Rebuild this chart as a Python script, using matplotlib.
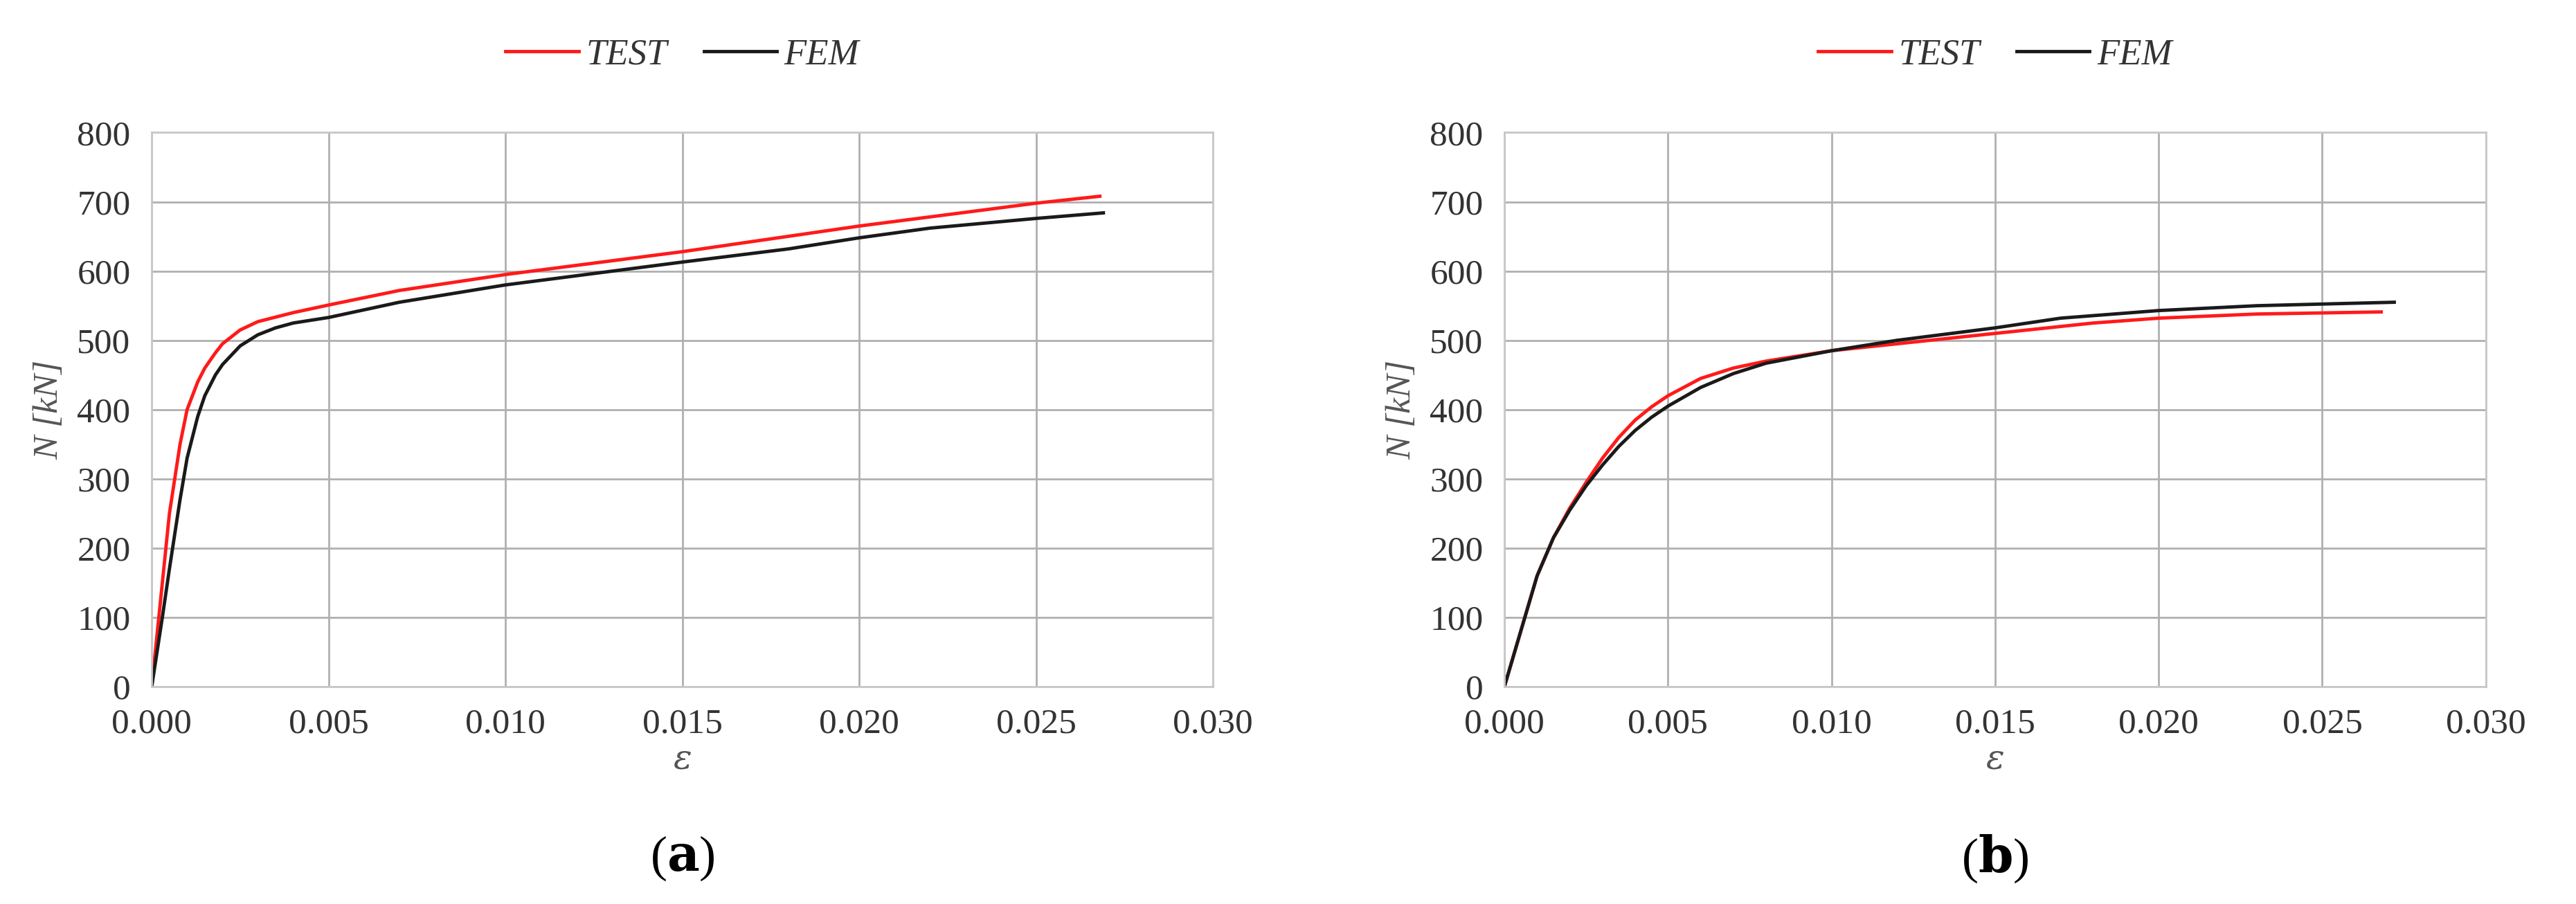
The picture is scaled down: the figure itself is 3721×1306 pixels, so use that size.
import matplotlib.pyplot as plt

# strain / axial force readings, panel (a)
a_test_eps = [0, 0.0003, 0.0005, 0.0008, 0.001, 0.0013, 0.0015, 0.0018, 0.002, 0.0025, 0.003, 0.004, 0.005, 0.007, 0.010, 0.015, 0.020, 0.025, 0.0268]
a_test_n = [0, 150, 250, 350, 400, 440, 460, 482, 495, 515, 527, 540, 551, 572, 595, 628, 665, 698, 708]
a_fem_eps = [0, 0.0003, 0.0005, 0.0008, 0.001, 0.0013, 0.0015, 0.0018, 0.002, 0.0025, 0.003, 0.0035, 0.004, 0.005, 0.007, 0.010, 0.015, 0.018, 0.020, 0.022, 0.025, 0.0269]
a_fem_n = [0, 100, 170, 270, 330, 390, 420, 450, 465, 492, 508, 518, 525, 533, 555, 580, 613, 632, 648, 662, 676, 684]

# panel (b)
b_test_eps = [0, 0.0005, 0.001, 0.0015, 0.002, 0.0025, 0.003, 0.0035, 0.004, 0.0045, 0.005, 0.006, 0.007, 0.008, 0.010, 0.012, 0.015, 0.018, 0.020, 0.023, 0.0268]
b_test_n = [0, 80, 160, 215, 258, 295, 330, 360, 385, 404, 420, 445, 460, 470, 485, 495, 510, 525, 532, 538, 541]
b_fem_eps = [0, 0.0005, 0.001, 0.0015, 0.002, 0.0025, 0.003, 0.0035, 0.004, 0.0045, 0.005, 0.006, 0.007, 0.008, 0.010, 0.012, 0.015, 0.017, 0.020, 0.023, 0.0272]
b_fem_n = [0, 80, 160, 215, 255, 290, 320, 347, 370, 389, 405, 432, 452, 467, 485, 500, 518, 532, 543, 550, 555]

x_ticks = [0.0, 0.005, 0.010, 0.015, 0.020, 0.025, 0.030]
y_ticks = list(range(0, 801, 100))

plt.rcParams['font.family'] = ['Liberation Serif', 'DejaVu Serif']
plt.rcParams['mathtext.fontset'] = 'dejavuserif'

fig = plt.figure(figsize=(37.21, 13.06), dpi=100)
panels = [
    ([0.0589, 0.2404, 0.412, 0.613], a_test_eps, a_test_n, a_fem_eps, a_fem_n, "a"),
    ([0.584, 0.2404, 0.381, 0.613], b_test_eps, b_test_n, b_fem_eps, b_fem_n, "b"),
]
for rect, te, tn, fe, fn, tag in panels:
    ax = fig.add_axes(rect)
    ax.plot(te, tn, color="#ff1a1a", lw=3.5, label="TEST")
    ax.plot(fe, fn, color="#1a1a1a", lw=3.5, label="FEM")
    ax.set_xlim(0, 0.030)
    ax.set_ylim(0, 800)
    ax.set_xticks(x_ticks)
    ax.set_xticklabels([f"{v:.3f}" for v in x_ticks])
    ax.set_yticks(y_ticks)
    ax.tick_params(length=0, labelsize=37, colors="#333333", pad=22)
    ax.grid(True, color="#b0b0b0", lw=2)
    for s in ax.spines.values():
        s.set_color("#c8c8c8")
        s.set_linewidth(2)
    ax.set_xlabel(r"$\varepsilon$", fontsize=36, color="#555555", labelpad=4)
    ax.set_ylabel("N [kN]", fontsize=37, style="italic", color="#555555", labelpad=12)
    ax.legend(loc="lower center", bbox_to_anchor=(0.5, 1.05), ncol=2, frameon=False,
              prop={"style": "italic", "size": 38}, handlelength=2.0,
              handletextpad=0.2, columnspacing=1.0, labelcolor="#333333")
    ax.text(0.5, -0.31, "(" + r"$\mathbf{" + tag + "}$" + ")", transform=ax.transAxes,
            ha="center", va="center", fontsize=52)

fig.savefig("out.png", dpi=100)
